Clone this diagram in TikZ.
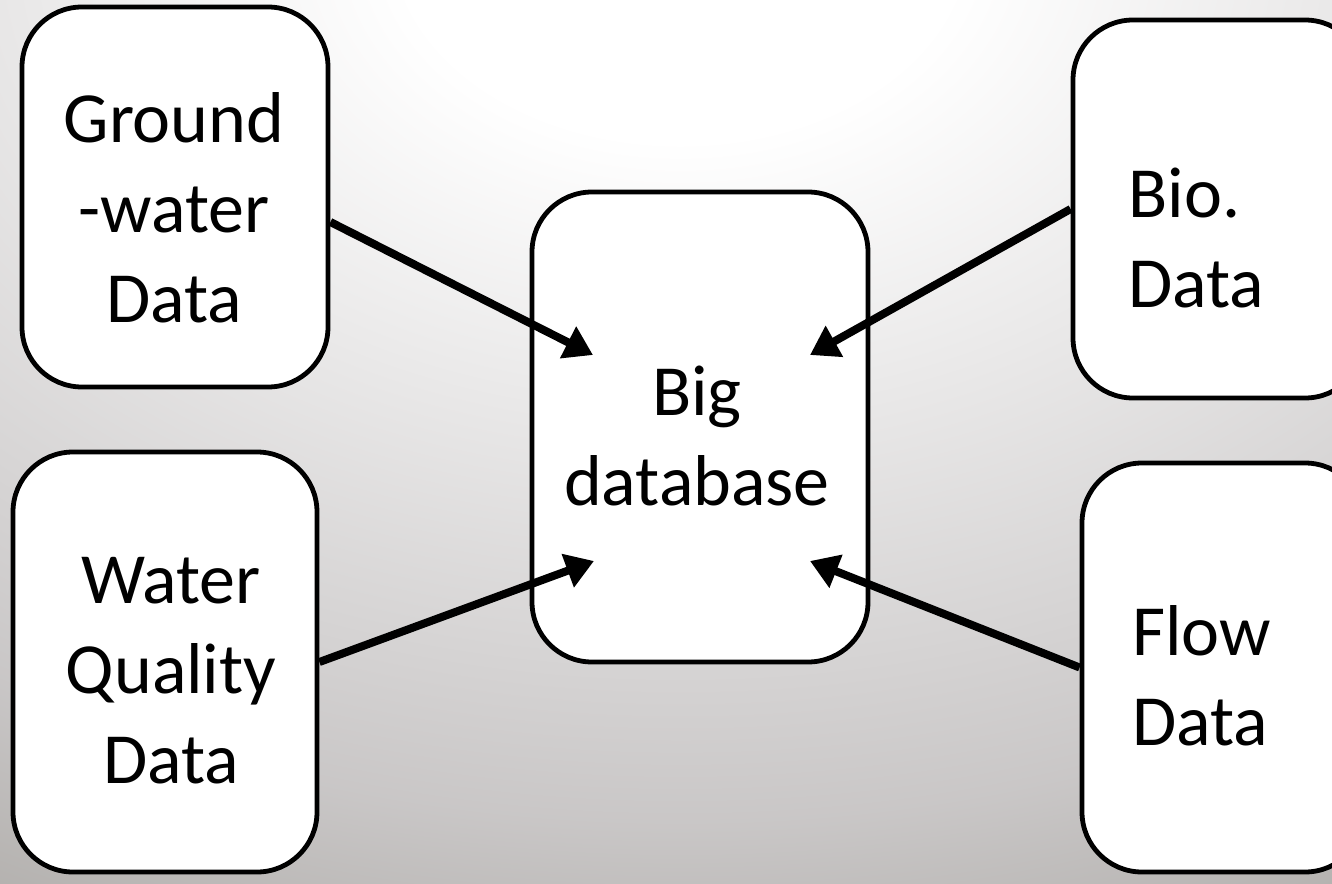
\documentclass[tikz,border=0pt]{standalone}
\usepackage{fontspec}
\setmainfont{Carlito}
\usetikzlibrary{arrows.meta}
\pgfdeclareradialshading{bgshade}{\pgfpoint{0bp}{0bp}}{%
  rgb(0bp)=(1,1,1);
  rgb(2.5bp)=(1,1,1);
  rgb(11bp)=(0.79,0.78,0.78);
  rgb(13.5bp)=(0.70,0.69,0.68);
  rgb(50bp)=(0.70,0.69,0.68)}
\tikzset{
  box/.style={draw=black, line width=2.4pt, rounded corners=30pt, fill=white, inner sep=0pt},
  txt/.style={inner sep=0pt, font=\fontsize{36}{45}\selectfont},
  arr/.style={line width=4pt, -{Triangle[length=14pt,width=17pt]}}
}
\begin{document}
\begin{tikzpicture}[x=0.5pt, y=-0.5pt]
\useasboundingbox (0,0) rectangle (1332,883);
\begin{scope}
\clip (0,0) rectangle (1332,883);
\shade[shading=bgshade] (680,-60) ellipse [x radius=2800, y radius=2000];
% boxes
\node[box, minimum width=153pt, minimum height=190pt] (gw) at (175,197) {};
\node[box, minimum width=152pt, minimum height=210pt] (wq) at (165,662) {};
\node[box, minimum width=168pt, minimum height=235pt] (big) at (700,427) {};
\node[box, minimum width=146pt, minimum height=189pt] (bio) at (1219,209) {};
\node[box, minimum width=141.5pt, minimum height=204.5pt] (flow) at (1223.5,667.5) {};
% texts (base anchor = baseline of last line)
\node[txt, align=center, anchor=base] (gwt) at (174,322) {Ground\\-water\\Data};
\node[txt, align=center, anchor=base] (wqt) at (171,783) {Water\\Quality\\Data};
\node[txt, align=center, anchor=base] (bigt) at (697,505) {Big\\database};
\node[txt, align=left, anchor=base west] (biot) at (1128,307) {Bio.\\Data};
\node[txt, align=left, anchor=base west] (flowt) at (1132,745) {Flow\\Data};
% arrow tips
\coordinate (t1) at (593,355);
\coordinate (t2) at (810,355);
\coordinate (t3) at (594,561);
\coordinate (t4) at (810,561);
\draw[arr] ([yshift=-12.5pt]gw.east) -- (t1);
\draw[arr] (bio.west) -- (t2);
\draw[arr] (wq.east) -- (t3);
\draw[arr] (flow.west) -- (t4);
\end{scope}
\end{tikzpicture}
\end{document}
